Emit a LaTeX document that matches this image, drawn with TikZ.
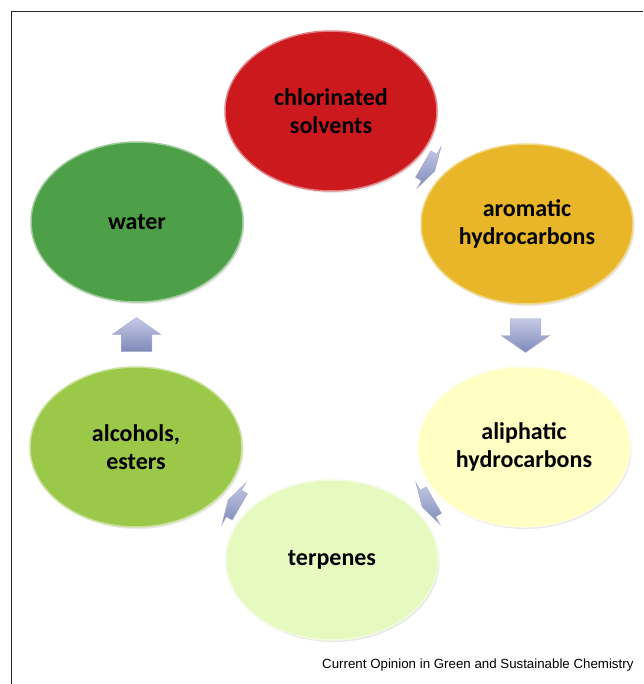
\documentclass[tikz,border=0pt]{standalone}
\usepackage{fontspec}
\setmainfont{Carlito}
\newfontfamily\creditfont{Liberation Sans}
\usetikzlibrary{shapes.geometric,shadows,calc}

\definecolor{chlred}{RGB}{203,25,30}
\definecolor{arogold}{RGB}{232,182,40}
\definecolor{aliyellow}{RGB}{255,255,196}
\definecolor{terpgreen}{RGB}{230,250,192}
\definecolor{alcgreen}{RGB}{156,200,74}
\definecolor{watgreen}{RGB}{78,160,72}
\definecolor{arrowlight}{RGB}{196,202,230}
\definecolor{arrowdark}{RGB}{128,138,185}

\tikzset{
	solvent/.style={ellipse,minimum width=212pt,minimum height=160pt,inner sep=0pt,
		align=center,font=\bfseries\fontsize{24}{28}\selectfont,
		fill=#1,draw=#1!55!white,line width=1.5pt,
		drop shadow={opacity=0.18,shadow xshift=1.5pt,shadow yshift=-2pt}},
	flowarrow/.pic={
		\shade[top color=arrowlight,bottom color=arrowdark,draw=arrowdark!70!white,line width=0.4pt]
		(-17,-17)--(0,-17)--(0,-27)--(17,0)--(0,27)--(0,17)--(-17,17)--cycle;
	}
}

\begin{document}
\begin{tikzpicture}[x=1pt,y=-1pt]

\useasboundingbox (0,0) rectangle (643,684);
\draw[line width=1.5pt,black!85] (11.5,684)|-(643,11.5);

\node[solvent=chlred] (chl) at (331,111) {chlorinated\\solvents};
\node[solvent=arogold] (aro) at (527,224) {aromatic\\hydrocarbons};
\node[solvent=aliyellow] (ali) at (524,447) {aliphatic\\hydrocarbons};
\node[solvent=terpgreen] (ter) at (332,560) {terpenes};
\node[solvent=alcgreen] (alc) at (136,447) {alcohols,\\esters};
\node[solvent=watgreen] (wat) at (137,222) {water};

\foreach \a/\b/\ang/\s in {chl/aro/-30/0.4,aro/ali/-90/1,ali/ter/210/0.4,ter/alc/150/0.4,alc/wat/90/1}{
	\pic[rotate=\ang,xscale=\s,yscale=0.9] at ($(\a)!0.5!(\b)$) {flowarrow};
}

\node[anchor=base east,font=\creditfont\fontsize{13.3}{16}\selectfont] (credit) at (637,668)
	{Current Opinion in Green and Sustainable Chemistry};

\end{tikzpicture}
\end{document}
